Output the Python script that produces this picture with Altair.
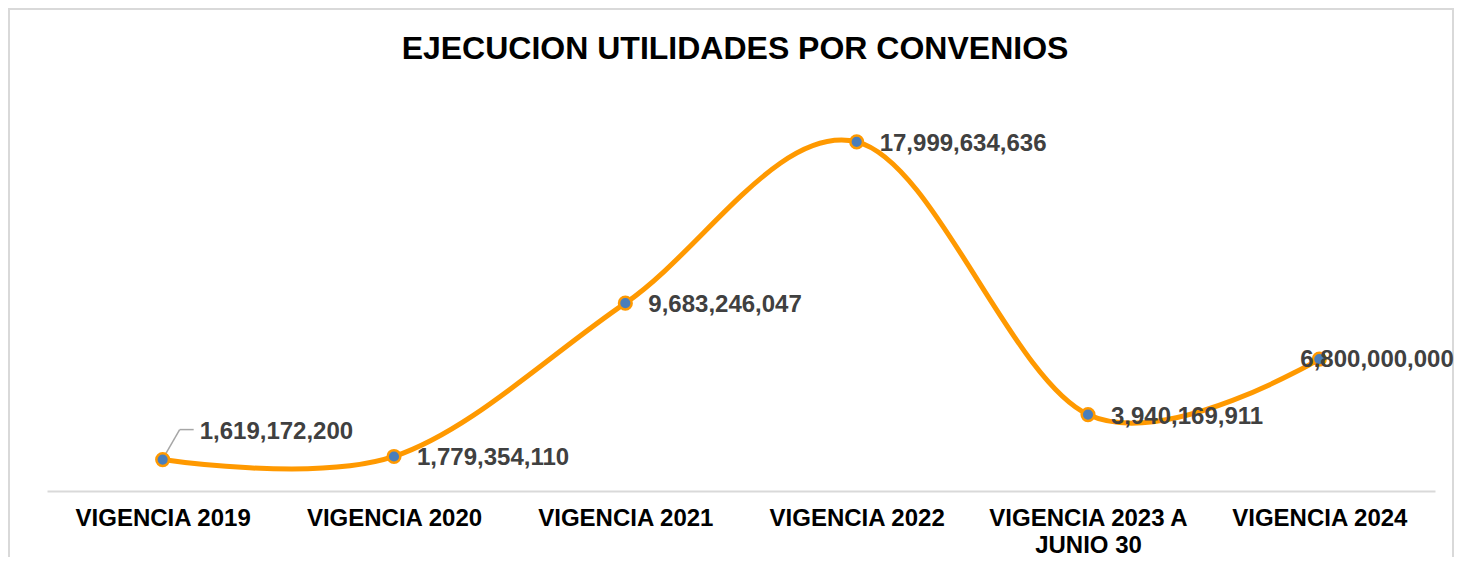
import altair as alt
import pandas as pd

categories = ["VIGENCIA 2019", "VIGENCIA 2020", "VIGENCIA 2021", "VIGENCIA 2022",
              "VIGENCIA 2023 A\nJUNIO 30", "VIGENCIA 2024"]
values = [1619172200, 1779354110, 9683246047, 17999634636, 3940169911, 6800000000]
title_text = "EJECUCION UTILIDADES POR CONVENIOS"

df = pd.DataFrame({"cat": categories, "val": values})

W, H = 1388, 388
FONT = "Liberation Sans"
ORANGE = "#FF9900"
BLUE = "#4A7EBB"

x = alt.X("cat:N", sort=categories,
          scale=alt.Scale(type="point", padding=0.5),
          axis=alt.Axis(title=None, labelAngle=0, ticks=False, labelPadding=15,
                        labelFontSize=24, labelFontWeight="bold", labelColor="#000000",
                        labelFont=FONT, labelLineHeight=27, labelLimit=0,
                        labelExpr="split(datum.label, '\\n')",
                        domainColor="#D9D9D9", domainWidth=2, grid=False))
y = alt.Y("val:Q", scale=alt.Scale(domain=[0, 20000000000]), axis=None)

base = alt.Chart(df).encode(x=x, y=y)

one = pd.DataFrame({"t": [title_text]})

frame = alt.Chart(one).mark_rect(
    fill="transparent", stroke="#D9D9D9", strokeWidth=2
).encode(x=alt.value(-38), x2=alt.value(1406), y=alt.value(-94), y2=alt.value(470))

title = alt.Chart(one).mark_text(
    font=FONT, fontSize=32, fontWeight="bold", color="#000000",
    align="center", baseline="middle"
).encode(text="t:N", x=alt.value(688), y=alt.value(-54))

line = base.mark_line(interpolate="cardinal", color=ORANGE, strokeWidth=5)
points = base.mark_point(filled=True, size=160, fill=BLUE, stroke=ORANGE,
                         strokeWidth=2.5, opacity=1)

txt_style = dict(font=FONT, fontSize=24, fontWeight="bold", color="#404040",
                 baseline="middle")
fmt = ",.0f"

mid_labels = base.transform_filter(
    alt.FieldOneOfPredicate(field="cat", oneOf=categories[1:5])
).mark_text(align="left", dx=23, dy=2, **txt_style).encode(text=alt.Text("val:Q", format=fmt))

first_label = base.transform_filter(
    alt.FieldEqualPredicate(field="cat", equal=categories[0])
).mark_text(align="left", dx=37, dy=-28, **txt_style).encode(text=alt.Text("val:Q", format=fmt))

last_label = base.transform_filter(
    alt.FieldEqualPredicate(field="cat", equal=categories[5])
).mark_text(align="left", dx=-19, dy=1, **txt_style).encode(text=alt.Text("val:Q", format=fmt))

first_only = base.transform_filter(alt.FieldEqualPredicate(field="cat", equal=categories[0]))
leader1 = first_only.mark_rule(color="#A6A6A6", strokeWidth=1.5,
                               xOffset=2, yOffset=-4, x2Offset=17, y2Offset=-30
                               ).encode(x2=alt.X2("cat:N"), y2=alt.Y2("val:Q"))
leader2 = first_only.mark_rule(color="#A6A6A6", strokeWidth=1.5,
                               xOffset=17, yOffset=-30, x2Offset=31, y2Offset=-30
                               ).encode(x2=alt.X2("cat:N"), y2=alt.Y2("val:Q"))

chart = alt.layer(frame, title, line, leader1, leader2, points,
                  mid_labels, first_label, last_label).properties(
    width=W, height=H,
    padding={"left": 39, "top": 95, "right": 20, "bottom": 66},
    autosize=alt.AutoSizeParams(type="none"),
).configure(background="white").configure_view(strokeWidth=0, stroke="transparent")

chart.save("out.html", embed_options={"renderer": "svg", "actions": False})
